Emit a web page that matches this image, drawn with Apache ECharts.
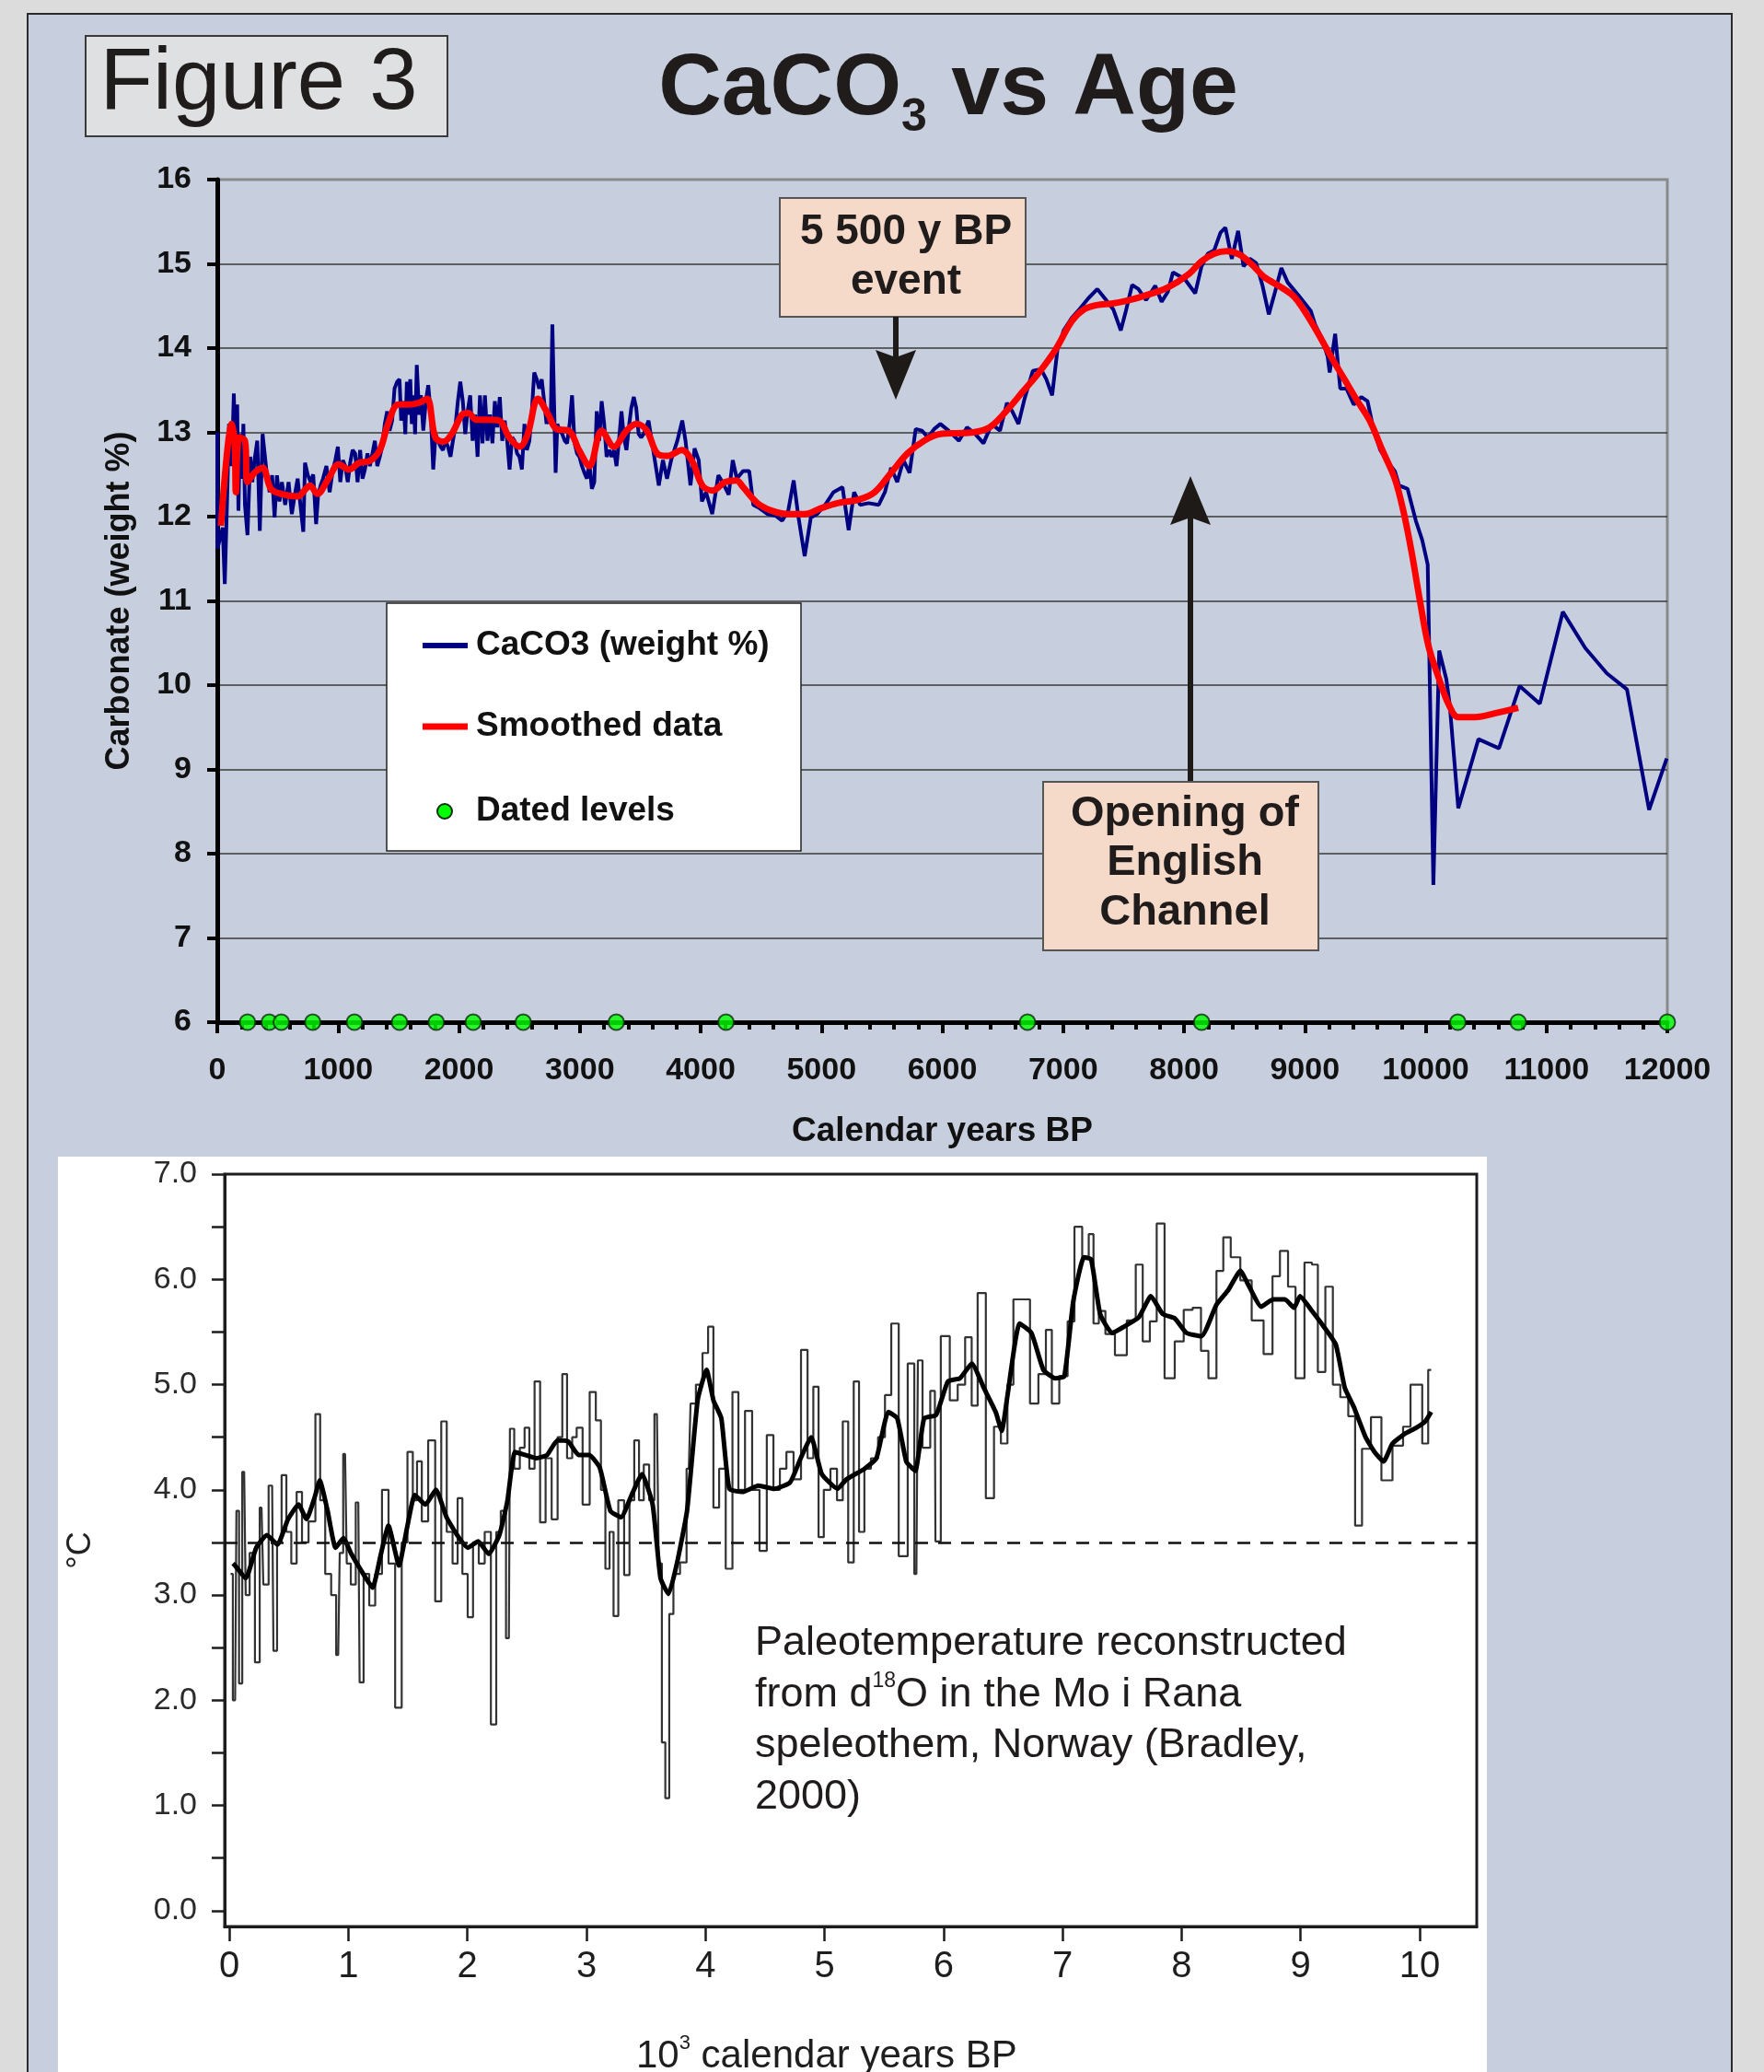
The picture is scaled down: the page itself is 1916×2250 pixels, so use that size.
<!DOCTYPE html>
<html><head><meta charset="utf-8">
<script src="https://cdn.jsdelivr.net/npm/echarts@6/dist/echarts.min.js"></script>
<style>
html,body{margin:0;padding:0;background:#dcdcdc;}
#wrap{position:relative;width:1916px;height:2250px;overflow:hidden;background:#dcdcdc;}
#panel{position:absolute;left:29px;top:14px;width:1849px;height:2300px;background:#c7cfde;border:2px solid #2b2b2b;}
#white{position:absolute;left:63px;top:1256px;width:1552px;height:1000px;background:#ffffff;}
#chart{position:absolute;left:0;top:0;width:1916px;height:2250px;}
</style></head><body>
<div id="wrap"><div id="panel"></div><div id="white"></div><div id="chart"></div></div>
<script>
// ---------- DATA ----------
// Top chart: CaCO3 weight % vs calendar years BP
const caco3Raw = [[0,13.0],[2,11.62],[45,11.87],[62,11.2],[86,12.45],[97,13.1],[120,12.6],[137,13.46],[154,12.45],[165,13.33],[175,12.07],[188,12.98],[205,12.45],[216,13.1],[229,12.14],[250,11.78],[273,12.71],[290,12.41],[311,12.7],[331,12.9],[352,11.83],[375,12.98],[392,12.75],[409,12.52],[433,12.29],[454,12.49],[474,11.99],[494,12.49],[515,12.18],[535,12.41],[562,12.14],[590,12.41],[617,12.03],[637,12.22],[665,12.45],[688,12.14],[712,11.82],[726,12.64],[750,12.49],[773,12.41],[794,12.5],[818,11.91],[835,12.26],[855,12.37],[875,12.45],[903,12.6],[930,12.29],[957,12.56],[977,12.67],[998,12.83],[1018,12.41],[1039,12.67],[1059,12.6],[1080,12.41],[1100,12.64],[1120,12.79],[1141,12.75],[1161,12.41],[1182,12.79],[1202,12.45],[1222,12.56],[1243,12.75],[1263,12.6],[1284,12.75],[1304,12.9],[1324,12.6],[1345,12.71],[1365,12.83],[1386,13.1],[1406,13.25],[1426,13.02],[1447,13.14],[1467,13.52],[1488,13.6],[1508,13.63],[1522,13.14],[1542,13.37],[1556,12.98],[1569,13.6],[1583,13.21],[1597,13.63],[1610,13.1],[1624,13.44],[1637,12.98],[1651,13.8],[1671,13.21],[1685,13.44],[1705,13.02],[1726,13.37],[1746,13.56],[1767,13.21],[1787,12.56],[1807,12.98],[1828,12.9],[1848,12.83],[1868,12.79],[1889,12.9],[1909,12.83],[1930,12.71],[1950,12.9],[1970,13.06],[1991,13.37],[2011,13.6],[2032,13.37],[2052,12.98],[2072,13.25],[2093,13.44],[2113,12.9],[2134,13.21],[2154,12.71],[2174,13.44],[2195,12.87],[2215,13.44],[2236,12.9],[2256,13.21],[2277,12.87],[2297,13.37],[2317,13.06],[2338,13.42],[2358,12.9],[2379,13.14],[2399,12.9],[2419,12.56],[2440,12.94],[2460,12.9],[2481,12.75],[2501,12.71],[2521,12.56],[2542,13.1],[2562,12.79],[2583,12.9],[2603,13.25],[2623,13.71],[2644,13.63],[2664,13.52],[2685,13.63],[2705,13.37],[2725,13.1],[2746,13.25],[2759,13.1],[2773,14.28],[2787,13.37],[2800,12.52],[2814,13.1],[2834,13.02],[2855,12.98],[2875,12.9],[2895,12.87],[2916,13.1],[2936,13.44],[2957,12.87],[2977,12.75],[2997,12.71],[3018,12.6],[3038,12.52],[3059,12.45],[3079,12.64],[3100,12.33],[3120,12.41],[3140,13.25],[3161,12.9],[3181,13.37],[3202,13.1],[3222,12.71],[3243,12.79],[3263,12.71],[3283,12.79],[3304,12.6],[3324,12.9],[3345,13.25],[3365,12.94],[3386,12.79],[3406,13.06],[3426,13.29],[3447,13.42],[3467,13.29],[3487,12.98],[3508,12.94],[3528,12.98],[3549,13.06],[3569,13.14],[3603,12.83],[3654,12.37],[3688,12.67],[3722,12.45],[3756,12.67],[3807,12.9],[3848,13.14],[3875,12.9],[3916,12.37],[3950,12.81],[3984,12.67],[4011,12.18],[4045,12.29],[4096,12.03],[4147,12.49],[4181,12.41],[4232,12.26],[4266,12.67],[4300,12.45],[4351,12.54],[4402,12.54],[4436,12.14],[4487,12.1],[4555,12.03],[4623,12.01],[4674,11.95],[4725,12.07],[4770,12.43],[4810,11.99],[4861,11.53],[4912,11.99],[4964,12.03],[5031,12.14],[5100,12.29],[5174,12.35],[5225,11.84],[5270,12.29],[5320,12.14],[5389,12.16],[5474,12.14],[5525,12.29],[5576,12.58],[5627,12.41],[5678,12.67],[5729,12.52],[5780,13.04],[5831,13.02],[5882,12.94],[5933,13.04],[5984,13.1],[6052,13.02],[6137,12.9],[6205,13.06],[6273,12.98],[6341,12.87],[6409,13.1],[6477,13.02],[6535,13.35],[6579,13.25],[6630,13.1],[6681,13.4],[6749,13.73],[6817,13.75],[6861,13.63],[6909,13.44],[6953,13.98],[7004,14.21],[7072,14.36],[7140,14.47],[7208,14.59],[7283,14.7],[7345,14.59],[7415,14.46],[7477,14.21],[7519,14.44],[7571,14.75],[7623,14.7],[7686,14.57],[7762,14.74],[7815,14.55],[7867,14.67],[7909,14.9],[8006,14.82],[8093,14.65],[8145,14.97],[8197,15.12],[8250,15.16],[8302,15.37],[8343,15.43],[8396,15.06],[8448,15.39],[8493,14.97],[8545,15.06],[8597,15.01],[8650,14.74],[8702,14.4],[8754,14.67],[8806,14.95],[8858,14.78],[8945,14.63],[9050,14.44],[9085,14.28],[9137,14.13],[9189,13.9],[9206,13.71],[9251,14.17],[9293,13.52],[9345,13.52],[9405,13.33],[9467,13.42],[9519,13.37],[9571,13.02],[9624,12.79],[9676,12.67],[9745,12.54],[9780,12.37],[9850,12.33],[9919,11.95],[9972,11.72],[10017,11.43],[10064,7.63],[10112,10.41],[10171,10.07],[10199,9.77],[10270,8.54],[10437,9.36],[10607,9.25],[10778,9.99],[10945,9.78],[11135,10.87],[11321,10.44],[11500,10.14],[11666,9.95],[11849,8.52],[11995,9.13]];

const smoothedData = [[30,11.89],[86,12.83],[120,13.1],[144,12.87],[154,12.29],[181,12.94],[229,12.9],[250,12.41],[307,12.52],[375,12.58],[443,12.33],[528,12.27],[665,12.24],[733,12.33],[767,12.37],[828,12.27],[920,12.45],[1005,12.62],[1090,12.56],[1175,12.64],[1260,12.66],[1345,12.79],[1413,13.1],[1498,13.33],[1583,13.33],[1668,13.35],[1736,13.4],[1804,12.94],[1872,12.89],[1940,12.98],[2025,13.21],[2076,13.23],[2144,13.15],[2229,13.15],[2331,13.14],[2416,12.94],[2501,12.83],[2569,12.98],[2654,13.4],[2739,13.21],[2807,13.04],[2909,13.02],[2994,12.79],[3079,12.6],[3181,13.02],[3283,12.83],[3386,13.02],[3470,13.1],[3555,13.02],[3640,12.75],[3725,12.72],[3844,12.79],[3929,12.66],[4014,12.37],[4100,12.31],[4202,12.41],[4297,12.43],[4351,12.35],[4470,12.16],[4589,12.07],[4725,12.03],[4861,12.03],[4997,12.1],[5133,12.16],[5304,12.2],[5440,12.29],[5576,12.52],[5712,12.75],[5848,12.9],[5984,12.98],[6120,12.99],[6256,13.0],[6392,13.06],[6528,13.25],[6664,13.48],[6800,13.71],[6936,13.98],[7072,14.32],[7174,14.46],[7276,14.51],[7412,14.53],[7548,14.57],[7693,14.63],[7867,14.72],[8041,14.88],[8145,15.03],[8250,15.12],[8354,15.15],[8458,15.11],[8563,14.99],[8667,14.84],[8806,14.72],[8911,14.61],[9015,14.4],[9119,14.15],[9224,13.88],[9328,13.63],[9432,13.38],[9537,13.14],[9641,12.79],[9745,12.45],[9815,12.07],[9885,11.57],[9954,10.99],[10024,10.46],[10112,10.07],[10191,9.77],[10270,9.62],[10409,9.62],[10588,9.67],[10766,9.73]];

const datedLevels = [250,430,530,790,1135,1508,1812,2118,2532,3302,4210,6705,8146,10266,10766,12000];

// Bottom chart: paleotemperature (°C) vs 10^3 calendar years BP
const tempRaw = [[0.01,3.2],[0.048,2.0],[0.07,3.8],[0.092,2.16],[0.124,4.17],[0.15,3.0],[0.19,3.4],[0.239,2.36],[0.27,3.83],[0.3,3.1],[0.359,4.04],[0.381,2.47],[0.42,3.5],[0.457,4.14],[0.5,3.6],[0.54,3.3],[0.59,3.98],[0.63,3.5],[0.7,3.7],[0.745,4.72],[0.78,3.9],[0.83,3.2],[0.88,3.0],[0.914,2.43],[0.94,3.4],[0.972,4.34],[1.0,3.3],[1.04,3.1],[1.083,3.88],[1.105,2.17],[1.15,3.2],[1.2,2.9],[1.25,3.2],[1.314,4.0],[1.36,3.3],[1.425,1.93],[1.47,3.5],[1.522,4.36],[1.56,3.9],[1.593,4.27],[1.64,3.7],[1.7,4.47],[1.758,2.94],[1.802,4.65],[1.85,3.6],[1.9,3.3],[1.935,3.92],[1.98,3.2],[2.024,2.79],[2.07,3.5],[2.12,3.3],[2.17,3.6],[2.224,1.77],[2.26,3.6],[2.3,3.8],[2.348,2.59],[2.366,4.58],[2.42,4.2],[2.46,4.4],[2.5,4.59],[2.54,4.2],[2.588,5.03],[2.633,3.69],[2.68,4.3],[2.735,3.72],[2.78,4.5],[2.814,5.1],[2.86,4.3],[2.9,4.5],[2.935,4.59],[3.0,3.86],[3.054,4.93],[3.103,4.66],[3.14,4.0],[3.178,3.25],[3.21,3.6],[3.245,2.8],[3.29,3.9],[3.343,3.19],[3.38,3.9],[3.423,4.47],[3.46,3.9],[3.503,4.24],[3.55,3.9],[3.592,4.72],[3.622,3.3],[3.645,1.6],[3.68,1.07],[3.711,2.82],[3.75,3.2],[3.822,3.31],[3.86,4.2],[3.889,4.82],[3.95,5.0],[4.0,5.3],[4.044,5.55],[4.089,3.83],[4.14,4.2],[4.2,3.25],[4.253,4.93],[4.3,4.0],[4.364,4.75],[4.42,4.0],[4.488,3.42],[4.542,4.52],[4.6,4.0],[4.65,4.2],[4.71,4.36],[4.77,4.1],[4.835,5.33],[4.88,4.3],[4.932,4.98],[4.968,3.55],[5.02,4.0],[5.08,4.2],[5.13,3.9],[5.177,4.65],[5.221,3.31],[5.27,5.03],[5.31,3.6],[5.36,4.2],[5.42,4.3],[5.48,4.5],[5.536,4.9],[5.586,5.58],[5.661,3.37],[5.737,5.2],[5.772,3.2],[5.797,5.23],[5.85,4.4],[5.927,4.94],[5.937,3.51],[6.017,5.46],[6.088,4.85],[6.15,5.0],[6.213,5.45],[6.26,4.8],[6.313,5.87],[6.398,3.92],[6.45,4.6],[6.514,4.44],[6.56,5.0],[6.614,5.81],[6.689,5.81],[6.764,4.82],[6.83,5.1],[6.89,5.52],[6.93,4.82],[7.015,5.08],[7.07,5.6],[7.13,6.5],[7.2,6.2],[7.24,6.43],[7.28,5.58],[7.33,5.7],[7.39,5.48],[7.49,5.28],[7.59,5.61],[7.64,6.14],[7.707,5.41],[7.76,5.6],[7.822,6.53],[7.892,5.06],[7.993,5.41],[8.043,5.71],[8.143,5.73],[8.183,5.32],[8.268,5.06],[8.318,6.08],[8.383,6.4],[8.443,6.21],[8.544,5.99],[8.634,5.61],[8.744,5.29],[8.784,6.03],[8.869,6.27],[8.92,5.93],[8.995,5.06],[9.07,6.16],[9.12,6.14],[9.17,5.12],[9.246,5.93],[9.296,5.0],[9.371,4.88],[9.43,4.7],[9.486,3.66],[9.546,4.39],[9.636,4.69],[9.722,4.09],[9.822,4.42],[9.9,4.6],[9.947,5.0],[9.997,5.0],[10.047,4.44],[10.097,5.14]];

const tempSmooth = [[0.03,3.3],[0.048,3.28],[0.137,3.16],[0.226,3.45],[0.315,3.57],[0.404,3.48],[0.492,3.72],[0.581,3.86],[0.648,3.72],[0.714,3.92],[0.759,4.09],[0.825,3.8],[0.892,3.45],[0.958,3.54],[1.025,3.39],[1.114,3.22],[1.203,3.07],[1.269,3.37],[1.336,3.66],[1.425,3.28],[1.491,3.63],[1.558,3.95],[1.647,3.86],[1.735,4.0],[1.824,3.74],[1.913,3.57],[2.002,3.45],[2.09,3.51],[2.179,3.39],[2.268,3.57],[2.335,3.89],[2.4,4.36],[2.49,4.33],[2.58,4.3],[2.668,4.33],[2.757,4.47],[2.846,4.46],[2.935,4.33],[3.023,4.33],[3.112,4.21],[3.201,3.8],[3.29,3.74],[3.379,3.95],[3.467,4.15],[3.556,3.86],[3.622,3.16],[3.689,3.01],[3.756,3.28],[3.845,3.8],[3.934,4.85],[4.009,5.14],[4.067,4.85],[4.133,4.68],[4.2,4.01],[4.311,3.98],[4.444,4.04],[4.577,4.01],[4.71,4.07],[4.8,4.3],[4.888,4.5],[4.977,4.15],[5.11,4.01],[5.185,4.1],[5.336,4.2],[5.436,4.3],[5.536,4.74],[5.611,4.68],[5.687,4.27],[5.762,4.18],[5.837,4.68],[5.937,4.71],[6.037,5.03],[6.138,5.06],[6.238,5.2],[6.338,4.97],[6.438,4.74],[6.489,4.56],[6.539,4.91],[6.639,5.58],[6.739,5.49],[6.839,5.14],[6.939,5.06],[7.015,5.08],[7.09,5.79],[7.18,6.21],[7.24,6.19],[7.316,5.67],[7.416,5.49],[7.516,5.55],[7.641,5.64],[7.742,5.84],[7.842,5.67],[7.942,5.63],[8.042,5.49],[8.168,5.46],[8.293,5.76],[8.393,5.9],[8.494,6.08],[8.569,5.93],[8.669,5.74],[8.769,5.81],[8.869,5.81],[8.945,5.73],[8.995,5.84],[9.095,5.7],[9.195,5.55],[9.296,5.38],[9.371,4.97],[9.446,4.79],[9.546,4.5],[9.621,4.36],[9.697,4.27],[9.772,4.44],[9.872,4.53],[9.972,4.59],[10.047,4.65],[10.097,4.74]];

const referenceTemp = 3.5;
const tempYLabels = [0,1,2,3,4,5,6,7];
const tempYTicks = [0,0.5,1,1.5,2,2.5,3,3.5,4,4.5,5,5.5,6,6.5,7];
const tempXLabels = [0,1,2,3,4,5,6,7,8,9,10];

// ---------- CHART ----------
const F = "'Liberation Sans', Arial, Helvetica, sans-serif";
const INK = '#201c1c';
const chart = echarts.init(document.getElementById('chart'), null, {renderer: 'canvas'});

const txt = (x, y, text, size, weight, align, color) => ({
  type: 'text', x: x, y: y, z: 100,
  style: {text: text, fontSize: size, fontWeight: weight || 'normal', fontFamily: F,
          fill: color || INK, align: align || 'center', verticalAlign: 'middle'}
});

const option = {
  animation: false,
  backgroundColor: 'transparent',
  textStyle: {fontFamily: F},
  grid: [
    {left: 236, top: 195, width: 1575, height: 915, show: true, borderColor: '#8a8a8a', borderWidth: 3, backgroundColor: 'transparent'},
    {left: 244, top: 1275, width: 1360, height: 817, show: true, borderColor: '#1c1c1c', borderWidth: 3, backgroundColor: 'transparent'}
  ],
  xAxis: [
    {gridIndex: 0, type: 'value', min: 0, max: 12000, interval: 1000,
     axisLine: {show: true, onZero: false, lineStyle: {color: '#000', width: 5}},
     axisTick: {show: true, length: 12, lineStyle: {color: '#000', width: 4}},
     minorTick: {show: true, splitNumber: 5, length: 8, lineStyle: {color: '#000', width: 4}},
     axisLabel: {margin: 36, fontSize: 34, fontWeight: 'bold', color: '#111', fontFamily: F, formatter: v => String(v)},
     splitLine: {show: false},
     name: 'Calendar years BP', nameLocation: 'middle', nameGap: 100,
     nameTextStyle: {fontSize: 37, fontWeight: 'bold', color: '#111', fontFamily: F}},
    {gridIndex: 1, type: 'value', min: -0.04, max: 10.48,
     axisLine: {show: true, onZero: false, lineStyle: {color: '#1c1c1c', width: 3}},
     axisTick: {show: true, customValues: tempXLabels, length: 16, lineStyle: {color: '#1c1c1c', width: 2.5}},
     axisLabel: {customValues: tempXLabels, margin: 24, fontSize: 40, color: '#1e1e1e', fontFamily: F, formatter: v => String(v)},
     splitLine: {show: false}}
  ],
  yAxis: [
    {gridIndex: 0, type: 'value', min: 6, max: 16, interval: 1,
     axisLine: {show: true, onZero: false, lineStyle: {color: '#000', width: 5}},
     axisTick: {show: true, length: 11, lineStyle: {color: '#000', width: 4}},
     axisLabel: {margin: 28, fontSize: 34, fontWeight: 'bold', color: '#111', fontFamily: F},
     splitLine: {show: true, showMinLine: false, showMaxLine: false, lineStyle: {color: '#3a3a3a', width: 1.6}},
     name: 'Carbonate (weight %)', nameLocation: 'middle', nameGap: 88,
     nameTextStyle: {fontSize: 36, fontWeight: 'bold', color: '#111', fontFamily: F}},
    {gridIndex: 1, type: 'value', min: -0.15, max: 7,
     axisLine: {show: true, onZero: false, lineStyle: {color: '#1c1c1c', width: 3}},
     axisTick: {show: true, customValues: tempYTicks, length: 14, lineStyle: {color: '#1c1c1c', width: 2.5}},
     axisLabel: {customValues: tempYLabels, formatter: v => Number(v).toFixed(1), margin: 30, fontSize: 34, color: '#2a2a2a', fontFamily: F},
     splitLine: {show: false},
     name: '°C', nameLocation: 'middle', nameGap: 138,
     nameTextStyle: {fontSize: 36, color: '#222', fontFamily: F}}
  ],
  series: [
    {name: 'CaCO3 (weight %)', type: 'line', xAxisIndex: 0, yAxisIndex: 0, data: caco3Raw,
     symbol: 'none', lineStyle: {color: '#000080', width: 4}, z: 3},
    {name: 'Smoothed data', type: 'line', xAxisIndex: 0, yAxisIndex: 0, data: smoothedData,
     symbol: 'none', smooth: 0.35, lineStyle: {color: '#ff0000', width: 7}, z: 4},
    {name: 'Dated levels', type: 'scatter', xAxisIndex: 0, yAxisIndex: 0, data: datedLevels.map(y => [y, 6]),
     symbolSize: 17, clip: false, itemStyle: {color: '#00ff00', borderColor: '#0b2e0b', borderWidth: 2}, z: 10},
    {name: 'Paleotemperature', type: 'line', xAxisIndex: 1, yAxisIndex: 1, data: tempRaw,
     symbol: 'none', step: 'middle', lineStyle: {color: '#333333', width: 2.2}, z: 3,
     markLine: {silent: true, symbol: 'none', label: {show: false},
       lineStyle: {color: '#111', width: 2.5, type: [14, 11]},
       data: [{yAxis: referenceTemp}]}},
    {name: 'Paleotemperature (smoothed)', type: 'line', xAxisIndex: 1, yAxisIndex: 1, data: tempSmooth,
     symbol: 'none', smooth: 0.15, lineStyle: {color: '#000', width: 5}, z: 4}
  ],
  graphic: [
    // Figure 3 box
    {type: 'rect', z: 90, shape: {x: 93, y: 39, width: 393, height: 109}, style: {fill: '#dee0e1', stroke: '#3a3a3a', lineWidth: 2}},
    txt(281, 92, 'Figure 3', 94, 'normal'),
    // Title with subscript
    {type: 'text', x: 1030, y: 98, z: 100,
     style: {text: '{a|CaCO}{b|3}{a| vs Age}', align: 'center', verticalAlign: 'middle',
       rich: {a: {fontSize: 95, fontWeight: 'bold', fontFamily: F, fill: INK, color: INK, lineHeight: 110},
              b: {fontSize: 50, fontWeight: 'bold', fontFamily: F, fill: INK, color: INK, lineHeight: 50, verticalAlign: 'bottom'}}}},
    // Legend
    {type: 'rect', z: 90, shape: {x: 420, y: 655, width: 450, height: 269}, style: {fill: '#ffffff', stroke: '#222', lineWidth: 1.5}},
    {type: 'line', z: 95, shape: {x1: 459, y1: 701, x2: 508, y2: 701}, style: {stroke: '#000080', lineWidth: 6}},
    {type: 'line', z: 95, shape: {x1: 459, y1: 789, x2: 508, y2: 789}, style: {stroke: '#ff0000', lineWidth: 7}},
    {type: 'circle', z: 95, shape: {cx: 483, cy: 881, r: 8}, style: {fill: '#00ff00', stroke: '#0b2e0b', lineWidth: 2}},
    txt(517, 701, 'CaCO3 (weight %)', 37, 'bold', 'left', '#111'),
    txt(517, 789, 'Smoothed data', 37, 'bold', 'left', '#111'),
    txt(517, 881, 'Dated levels', 37, 'bold', 'left', '#111'),
    // 5 500 y BP event box + arrow
    {type: 'rect', z: 90, shape: {x: 847, y: 215, width: 267, height: 129}, style: {fill: '#f5d9c9', stroke: '#555', lineWidth: 2}},
    txt(984, 252, '5 500 y BP', 46, 'bold'),
    txt(984, 306, 'event', 46, 'bold'),
    {type: 'rect', z: 90, shape: {x: 970, y: 344, width: 6, height: 44}, style: {fill: '#1e1a18'}},
    {type: 'polygon', z: 90, shape: {points: [[951, 380], [973, 388], [995, 380], [973, 434]]}, style: {fill: '#1e1a18'}},
    // Opening of English Channel box + arrow
    {type: 'rect', z: 90, shape: {x: 1290, y: 560, width: 6, height: 290}, style: {fill: '#1e1a18'}},
    {type: 'polygon', z: 90, shape: {points: [[1271, 570], [1293, 562], [1315, 570], [1293, 517]]}, style: {fill: '#1e1a18'}},
    {type: 'rect', z: 90, shape: {x: 1133, y: 849, width: 299, height: 183}, style: {fill: '#f5d9c9', stroke: '#555', lineWidth: 2}},
    txt(1287, 884, 'Opening of', 47, 'bold'),
    txt(1287, 937, 'English', 47, 'bold'),
    txt(1287, 991, 'Channel', 47, 'bold'),
    // Bottom chart annotation text
    txt(820, 1785, 'Paleotemperature reconstructed', 45, 'normal', 'left'),
    {type: 'text', x: 820, y: 1841, z: 100,
     style: {text: '{n|from d}{s|18}{n|O in the Mo i Rana}', align: 'left', verticalAlign: 'middle',
       rich: {n: {fontSize: 45, fontFamily: F, fill: INK, color: INK, lineHeight: 54},
              s: {fontSize: 23, fontFamily: F, fill: INK, color: INK, lineHeight: 32, verticalAlign: 'top'}}}},
    txt(820, 1896, 'speleothem, Norway (Bradley,', 45, 'normal', 'left'),
    txt(820, 1952, '2000)', 45, 'normal', 'left'),
    // Bottom x axis title
    {type: 'text', x: 691, y: 2233, z: 100,
     style: {text: '{n|10}{s|3}{n| calendar years BP}', align: 'left', verticalAlign: 'middle',
       rich: {n: {fontSize: 42, fontFamily: F, fill: '#1e1e1e', color: '#1e1e1e', lineHeight: 50},
              s: {fontSize: 22, fontFamily: F, fill: '#1e1e1e', color: '#1e1e1e', lineHeight: 28, verticalAlign: 'top'}}}}
  ]
};
chart.setOption(option);
</script>
</body></html>
